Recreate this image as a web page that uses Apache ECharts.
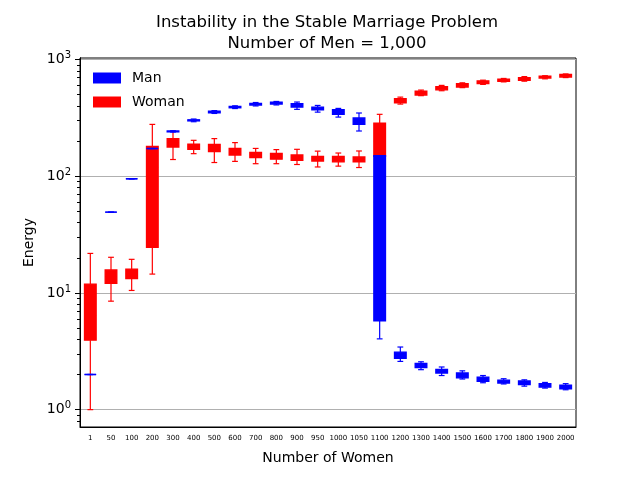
<!DOCTYPE html>
<html>
<head>
<meta charset="utf-8">
<script src="https://cdn.jsdelivr.net/npm/echarts@6/dist/echarts.min.js"></script>
<style>
  html, body { margin: 0; padding: 0; background: #fff; }
  #chart { width: 640px; height: 480px; }
</style>
</head>
<body>
<div id="chart"></div>
<script>
// number of women (x categories)
const womenCounts = ['1', '50', '100', '200', '300', '400', '500', '600', '700', '800', '900', '950',
  '1000', '1050', '1100', '1200', '1300', '1400', '1500', '1600', '1700', '1800', '1900', '2000']

// box stats per category: [low whisker, q1, median, q3, high whisker]
const manStats = [
  [2, 2, 2, 2, 2],
  [49.2, 49.2, 49.2, 49.2, 49.2],
  [95, 95, 95, 95, 95],
  [172.6, 172.6, 172.6, 172.6, 172.6],
  [239, 240, 242, 244, 245],
  [293, 298, 301, 304, 309],
  [345, 350, 355, 360, 365],
  [380, 386, 391, 396, 401],
  [400, 408, 414, 420, 428],
  [408, 416, 423, 430, 437],
  [374, 391, 405, 418, 432],
  [354, 371, 381, 391, 404],
  [321, 339, 355, 371, 381],
  [244, 278, 295, 315, 348],
  [4.04, 5.76, 60, 150, 150],
  [2.59, 2.75, 2.95, 3.11, 3.44],
  [2.20, 2.29, 2.40, 2.49, 2.57],
  [1.96, 2.06, 2.14, 2.21, 2.32],
  [1.83, 1.87, 1.97, 2.06, 2.15],
  [1.70, 1.75, 1.82, 1.90, 1.96],
  [1.66, 1.69, 1.74, 1.79, 1.84],
  [1.59, 1.64, 1.70, 1.76, 1.80],
  [1.53, 1.56, 1.61, 1.67, 1.71],
  [1.48, 1.51, 1.56, 1.62, 1.67]
]

const womanStats = [
  [1.0, 3.94, 6.4, 11.9, 21.8],
  [8.5, 12.1, 13.8, 15.7, 20.2],
  [10.5, 13.3, 14.6, 16.0, 19.4],
  [14.5, 24.6, 119, 180, 278],
  [139, 178, 195, 210, 242],
  [156, 170, 180, 188, 203],
  [131, 163, 176, 187, 210],
  [134, 152, 162, 173, 194],
  [128, 144.5, 152, 160, 173],
  [128, 140, 148, 157, 169],
  [126, 137, 144, 152, 170],
  [120, 135, 141, 148, 164],
  [122, 132.6, 140, 148, 158],
  [118.7, 133, 139, 146, 164.5],
  [140, 148, 200, 284, 339],
  [415, 426, 443, 461, 476],
  [490, 497, 515, 534, 547],
  [540, 549, 567, 586, 600],
  [574, 582, 603, 621, 631],
  [612, 622, 640, 656, 665],
  [643, 651, 664, 677, 688],
  [652, 664, 684, 700, 714],
  [683, 694, 708, 719, 726],
  [700, 709, 728, 743, 752]
]

const yMajorTicks = [1, 10, 100, 1000]
const yMinorTicks = [0.8, 0.9, 2, 3, 4, 5, 6, 7, 8, 9, 20, 30, 40, 50, 60, 70, 80, 90,
  200, 300, 400, 500, 600, 700, 800, 900]

const yMin = 0.71
const yMax = 1030

const chart = echarts.init(document.getElementById('chart'))

function renderBox(params, api) {
  const x = api.value(0)
  const lo = api.coord([x, api.value(1)])
  const q1 = api.coord([x, api.value(2)])
  const md = api.coord([x, api.value(3)])
  const q3 = api.coord([x, api.value(4)])
  const hi = api.coord([x, api.value(5)])
  const band = api.size([1, 1])[0]
  const w = band * 0.56
  const cx = lo[0]
  const color = api.visual('color')
  const line = (x1, y1, x2, y2) => ({
    type: 'line',
    shape: { x1, y1, x2, y2 },
    style: { stroke: color, lineWidth: 1.2 }
  })
  return {
    type: 'group',
    children: [
      line(cx, lo[1], cx, q1[1]),
      line(cx, q3[1], cx, hi[1]),
      line(cx - w / 4, lo[1], cx + w / 4, lo[1]),
      line(cx - w / 4, hi[1], cx + w / 4, hi[1]),
      {
        type: 'rect',
        shape: { x: cx - w / 2, y: q3[1], width: w, height: q1[1] - q3[1] },
        style: { fill: color, stroke: color, lineWidth: 1.4 }
      },
      line(cx - w / 2, md[1], cx + w / 2, md[1])
    ]
  }
}

const toData = stats => stats.map((s, i) => [i].concat(s))

chart.setOption({
  animation: false,
  textStyle: { fontFamily: 'DejaVu Sans' },
  title: {
    text: 'Instability in the Stable Marriage Problem\nNumber of Men = 1,000',
    left: 327,
    top: 12,
    padding: 0,
    textAlign: 'center',
    textStyle: { fontSize: 16.5, fontWeight: 'normal', color: '#000', lineHeight: 21, fontFamily: 'DejaVu Sans' }
  },
  legend: {
    data: ['Man', 'Woman'],
    orient: 'vertical',
    left: 93,
    top: 71,
    padding: 0,
    itemWidth: 28,
    itemHeight: 11,
    itemGap: 10,
    icon: 'rect',
    textStyle: { fontSize: 14, color: '#000', padding: [0, 0, 0, 6] }
  },
  grid: {
    left: 80, right: 64, top: 58, bottom: 53,
    show: true, borderColor: '#000', borderWidth: 1, backgroundColor: 'transparent'
  },
  xAxis: {
    type: 'category',
    data: womenCounts,
    name: 'Number of Women',
    nameLocation: 'middle',
    nameGap: 24,
    nameTextStyle: { fontSize: 14, color: '#000' },
    axisLine: { lineStyle: { color: '#000' } },
    axisTick: { alignWithLabel: true, length: 5, lineStyle: { color: '#000' } },
    axisLabel: { interval: 0, fontSize: 7, color: '#000', margin: 8 },
    splitLine: { show: false }
  },
  yAxis: [
    {
      type: 'log',
      logBase: 10,
      min: yMin,
      max: yMax,
      name: 'Energy',
      nameLocation: 'middle',
      nameGap: 34,
      nameTextStyle: { fontSize: 14, color: '#000' },
      axisLine: { show: true, lineStyle: { color: '#000' } },
      axisTick: { show: true, length: 5, customValues: yMajorTicks, lineStyle: { color: '#000' } },
      axisLabel: {
        customValues: yMajorTicks,
        margin: 9,
        formatter: v => '{b|10}{s|' + Math.round(Math.log10(v)) + '}',
        rich: {
          b: { fontSize: 14, color: '#000' },
          s: { fontSize: 10, color: '#000', padding: [0, 0, 8, 0] }
        }
      },
      splitLine: { show: true, lineStyle: { color: '#b0b0b0', width: 1 } }
    },
    {
      // minor ticks only
      type: 'log',
      logBase: 10,
      min: yMin,
      max: yMax,
      position: 'left',
      offset: 0,
      axisLine: { show: true, lineStyle: { color: '#000' } },
      axisTick: { show: true, length: 3, customValues: yMinorTicks, lineStyle: { color: '#000', width: 1 } },
      axisLabel: { show: false },
      splitLine: { show: false }
    }
  ],
  series: [
    {
      name: 'Woman',
      type: 'custom',
      legendIcon: 'rect',
      itemStyle: { color: '#ff0000' },
      renderItem: renderBox,
      encode: { x: 0, y: [1, 2, 3, 4, 5] },
      data: toData(womanStats)
    },
    {
      name: 'Man',
      type: 'custom',
      legendIcon: 'rect',
      itemStyle: { color: '#0000ff' },
      renderItem: renderBox,
      encode: { x: 0, y: [1, 2, 3, 4, 5] },
      data: toData(manStats)
    }
  ]
})

window.addEventListener('resize', () => chart.resize())
</script>
</body>
</html>
